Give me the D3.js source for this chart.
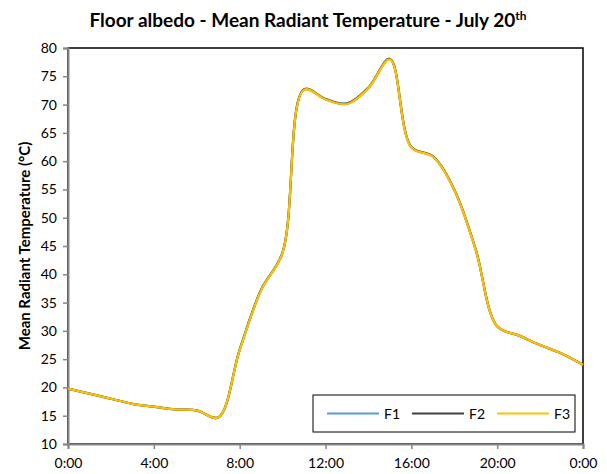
<!DOCTYPE html>
<html>
<head>
<meta charset="utf-8">
<script src="https://cdn.jsdelivr.net/npm/d3@7"></script>
<style>
  html, body { margin: 0; padding: 0; background: #fff; }
  svg { display: block; font-family: Lato, "Liberation Sans", sans-serif; }
</style>
</head>
<body>
<svg id="chart" width="607" height="474"></svg>
<script>
// Hour of day for each reading (0:00 to the following 0:00)
const hours = [0, 1, 2, 3, 4, 5, 6, 7, 8, 9, 10, 11, 12, 13, 14, 15, 16, 17, 18, 19, 20, 21, 22, 23, 24];

// Mean radiant temperature (°C) for the three floor albedo cases
const f1 = [19.8, 18.9, 18.0, 17.1, 16.6, 16.1, 15.95, 14.7, 26.7, 37.3, 43.9, 72.7, 71.0, 70.2, 73.0, 78.1, 62.5, 60.9, 55.0, 44.4, 30.8, 29.2, 27.5, 26.0, 24.0];
const f2 = [19.8, 18.9, 18.0, 17.1, 16.6, 16.1, 15.95, 14.7, 26.65, 37.25, 43.85, 72.65, 70.95, 70.15, 72.95, 78.05, 62.45, 60.85, 54.95, 44.35, 30.8, 29.2, 27.5, 26.0, 24.0];
const f3 = [19.8, 18.9, 18.0, 17.1, 16.6, 16.1, 15.95, 14.7, 26.6, 37.2, 43.8, 72.6, 70.9, 70.1, 72.9, 78.0, 62.4, 60.8, 54.9, 44.3, 30.8, 29.2, 27.5, 26.0, 24.0];

const seriesNames = ["F1", "F2", "F3"];
const seriesColors = ["#5B9BD5", "#404040", "#FFC000"];
const xTicks = [0, 4, 8, 12, 16, 20, 24];
const yTicks = [10, 15, 20, 25, 30, 35, 40, 45, 50, 55, 60, 65, 70, 75, 80];

const svg = d3.select("#chart");
const plotL = 68, plotR = 583, plotT = 48, plotB = 444;

const x = d3.scaleLinear().domain([0, 24]).range([plotL, plotR]);
const y = d3.scaleLinear().domain([10, 80]).range([plotB, plotT]);

// Title with superscript ordinal
const title = svg.append("text")
  .attr("x", 308).attr("y", 27)
  .attr("text-anchor", "middle")
  .attr("font-size", 19).attr("font-weight", "bold")
  .attr("fill", "#000");
title.append("tspan").text("Floor albedo - Mean Radiant Temperature - July 20");
title.append("tspan").text("th").attr("font-size", 12).attr("dy", -7);

// Plot area frame (top and right edges)
svg.append("rect")
  .attr("x", plotL).attr("y", plotT)
  .attr("width", plotR - plotL).attr("height", plotB - plotT)
  .attr("fill", "none").attr("stroke", "#000").attr("stroke-width", 1.5);

// Y axis
const yAxis = svg.append("g")
  .attr("transform", `translate(${plotL},0)`)
  .call(d3.axisLeft(y).tickValues(yTicks).tickSize(5).tickPadding(6));
// X axis
const xAxis = svg.append("g")
  .attr("transform", `translate(0,${plotB})`)
  .call(d3.axisBottom(x).tickValues(xTicks).tickSize(5).tickPadding(9)
    .tickFormat(d => (d % 24) + ":00"));

[yAxis, xAxis].forEach(g => {
  g.select(".domain").attr("stroke", "#868686").attr("stroke-width", 2);
  g.selectAll(".tick line").attr("stroke", "#868686").attr("stroke-width", 1.5);
  g.selectAll(".tick text").attr("font-size", 14).attr("fill", "#000")
    .attr("font-family", "Lato, sans-serif");
});

// Y axis title
svg.append("text")
  .attr("transform", `translate(30,${(plotT + plotB) / 2}) rotate(-90)`)
  .attr("text-anchor", "middle")
  .attr("font-size", 15).attr("font-weight", "bold")
  .text("Mean Radiant Temperature (°C)");

// Smoothed series lines
const line = d3.line()
  .x((d, i) => x(hours[i]))
  .y(d => y(d))
  .curve(d3.curveCatmullRom.alpha(0.5));

[f1, f2, f3].forEach((vals, i) => {
  svg.append("path")
    .datum(vals)
    .attr("d", line)
    .attr("fill", "none")
    .attr("stroke", seriesColors[i])
    .attr("stroke-width", 2.25)
    .attr("stroke-linejoin", "round");
});

// Legend
const legend = svg.append("g");
legend.append("rect")
  .attr("x", 313).attr("y", 395).attr("width", 262).attr("height", 37)
  .attr("fill", "#fff").attr("stroke", "#000").attr("stroke-width", 1);
const legendX = [327, 412, 497];
seriesNames.forEach((name, i) => {
  legend.append("line")
    .attr("x1", legendX[i]).attr("x2", legendX[i] + 52)
    .attr("y1", 413.5).attr("y2", 413.5)
    .attr("stroke", seriesColors[i]).attr("stroke-width", 2);
  legend.append("text")
    .attr("x", legendX[i] + 57).attr("y", 418.5)
    .attr("font-size", 14).attr("fill", "#000")
    .text(name);
});
</script>
</body>
</html>
